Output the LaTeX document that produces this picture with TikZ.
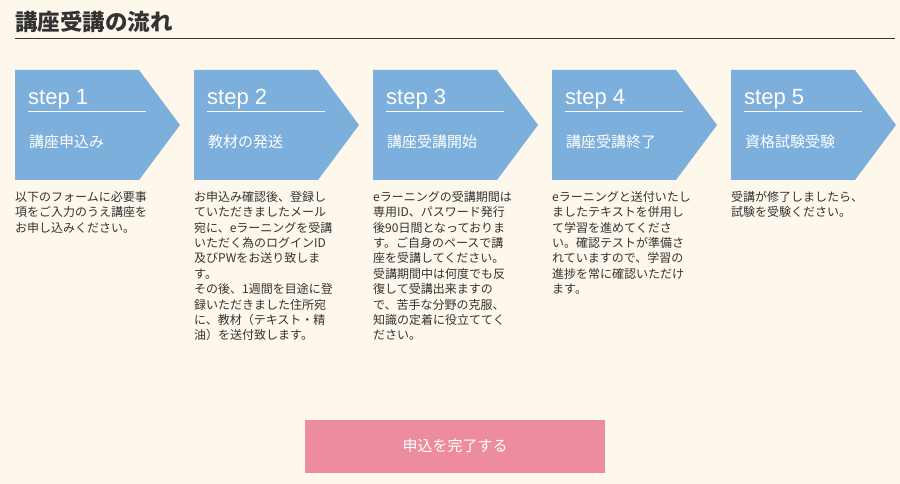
\documentclass[tikz,border=0pt]{standalone}
\usepackage{fontspec}
\setmainfont{Noto Sans CJK JP}
\newfontfamily\latinsans{Liberation Sans}
\definecolor{bg}{HTML}{FEF7EC}
\definecolor{boxc}{HTML}{7DAFDC}
\definecolor{btn}{HTML}{EC8C9E}
\definecolor{txt}{HTML}{333333}
\begin{document}
\begin{tikzpicture}[x=1pt,y=-1pt,
  body/.style={anchor=north west,inner sep=0,align=left,text=txt,font=\fontsize{12}{15.4}\selectfont},
  steplbl/.style={anchor=base west,inner sep=0,text=white,font=\latinsans\fontsize{22}{24}\selectfont},
  titlelbl/.style={anchor=base west,inner sep=0,text=white,font=\fontsize{15}{17}\selectfont}]
\fill[bg] (0,0) rectangle (900,484);
\useasboundingbox (0,0) rectangle (900,484);
\node[anchor=base west,inner sep=0,text=txt,font=\fontsize{22.5}{25}\selectfont\bfseries] (head) at (15,31) {講座受講の流れ};
\draw[txt,line width=1pt] (15,39) coordinate (hl) -- (895,39) coordinate (hr);
\foreach \i/\t in {1/講座申込み,2/教材の発送,3/講座受講開始,4/講座受講終了,5/資格試験受験}{
  \pgfmathsetmacro\xo{15+179*(\i-1)}
  \fill[boxc] (\xo,70) -- (\xo+124,70) -- (\xo+165,125) -- (\xo+124,180) -- (\xo,180) -- cycle;
  \node[steplbl] (s\i) at (\xo+13,105) {step \i};
  \draw[white,line width=0.8pt] (\xo+13,111) -- (\xo+131,111);
  \node[titlelbl] (t\i) at (\xo+14,148) {\t};
}
\node[body] (b1) at (15,191) {以下のフォームに必要事\\項をご入力のうえ講座を\\お申し込みください。};
\node[body] (b2) at (194,191) {お申込み確認後、登録し\\ていただきましたメール\\宛に、eラーニングを受講\\いただく為のログインID\\及びPWをお送り致しま\\す。\\その後、1週間を目途に登\\録いただきました住所宛\\に、教材（テキスト・精\\油）を送付致します。};
\node[body] (b3) at (373,191) {eラーニングの受講期間は\\専用ID、パスワード発行\\後90日間となっておりま\\す。ご自身のペースで講\\座を受講してください。\\受講期間中は何度でも反\\復して受講出来ますの\\で、苦手な分野の克服、\\知識の定着に役立ててく\\ださい。};
\node[body] (b4) at (552,191) {eラーニングと送付いたし\\ましたテキストを併用し\\て学習を進めてくださ\\い。確認テストが準備さ\\れていますので、学習の\\進捗を常に確認いただけ\\ます。};
\node[body] (b5) at (731,191) {受講が修了しましたら、\\試験を受験ください。};
\fill[btn] (305,420) rectangle (605,473);
\node[text=white,font=\fontsize{15}{17}\selectfont] (btnt) at (455,446) {申込を完了する};
\end{tikzpicture}
\end{document}
